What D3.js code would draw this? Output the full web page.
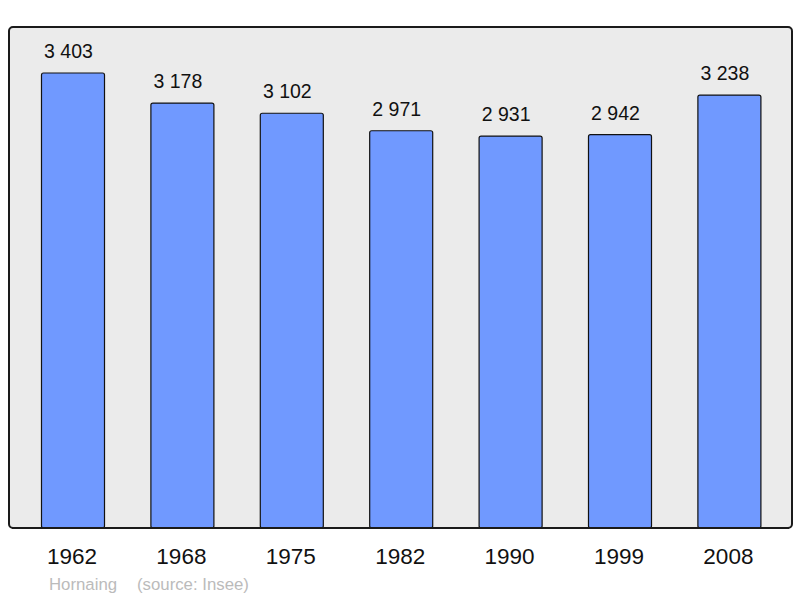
<!DOCTYPE html>
<html>
<head>
<meta charset="utf-8">
<script src="https://cdn.jsdelivr.net/npm/d3@7"></script>
<style>
  body { margin: 0; background: #fff; }
  text { font-family: "Liberation Sans", Arial, sans-serif; }
</style>
</head>
<body>
<div id="content"></div>
<script>
const width = 800;
const height = 598;

const years = ["1962", "1968", "1975", "1982", "1990", "1999", "2008"];
const population = [3403, 3178, 3102, 2971, 2931, 2942, 3238];
const commune = "Hornaing";
const source = "(source: Insee)";

const panel = {left: 9, top: 27, right: 792, bottom: 528};

var svg = d3.select("#content").append("svg")
    .attr("width", width)
    .attr("height", height);

// background panel
svg.append("rect")
    .attr("x", panel.left)
    .attr("y", panel.top)
    .attr("width", panel.right - panel.left)
    .attr("height", panel.bottom - panel.top)
    .attr("rx", 4)
    .attr("fill", "#ebebeb")
    .attr("stroke", "#1a1a1a")
    .attr("stroke-width", 2);

var x_scale = d3.scaleBand()
    .domain(years)
    .range([18.3, 784.1])
    .paddingInner(0.424)
    .paddingOuter(0.212);

var y_scale = d3.scaleLinear()
    .domain([0, d3.max(population)])
    .range([panel.bottom, 73]);

var fmt = d => d3.format(",")(d).replace(",", " ");

var rows = years.map((y, i) => ({year: y, value: population[i]}));

svg.selectAll(".bar")
    .data(rows)
    .enter().append("rect")
    .attr("class", "bar")
    .attr("x", d => x_scale(d.year))
    .attr("y", d => y_scale(d.value))
    .attr("width", x_scale.bandwidth())
    .attr("height", d => panel.bottom - y_scale(d.value))
    .attr("rx", 2)
    .attr("fill", "#7099ff")
    .attr("stroke", "#111")
    .attr("stroke-width", 1.2);

// redraw panel bottom border over bars
svg.append("line")
    .attr("x1", panel.left + 3).attr("x2", panel.right - 3)
    .attr("y1", panel.bottom).attr("y2", panel.bottom)
    .attr("stroke", "#1a1a1a")
    .attr("stroke-width", 2);

// value labels sit a little left of the bar centre, like the original
svg.selectAll(".vlabel")
    .data(rows)
    .enter().append("text")
    .attr("class", "vlabel")
    .attr("x", d => x_scale(d.year) + x_scale.bandwidth() / 2 - 4.5)
    .attr("y", d => y_scale(d.value) - 15)
    .attr("text-anchor", "middle")
    .attr("font-size", 19.5)
    .attr("fill", "#111")
    .text(d => fmt(d.value));

svg.selectAll(".xlabel")
    .data(years)
    .enter().append("text")
    .attr("class", "xlabel")
    .attr("x", d => x_scale(d) + x_scale.bandwidth() / 2 - 1)
    .attr("y", 564)
    .attr("text-anchor", "middle")
    .attr("font-size", 22.5)
    .attr("fill", "#111")
    .text(d => d);

svg.append("text")
    .attr("x", 49)
    .attr("y", 590)
    .attr("font-size", 16.8)
    .attr("fill", "#bbbbbb")
    .text(commune);

svg.append("text")
    .attr("x", 137)
    .attr("y", 590)
    .attr("font-size", 16.8)
    .attr("fill", "#bbbbbb")
    .text(source);
</script>
</body>
</html>
